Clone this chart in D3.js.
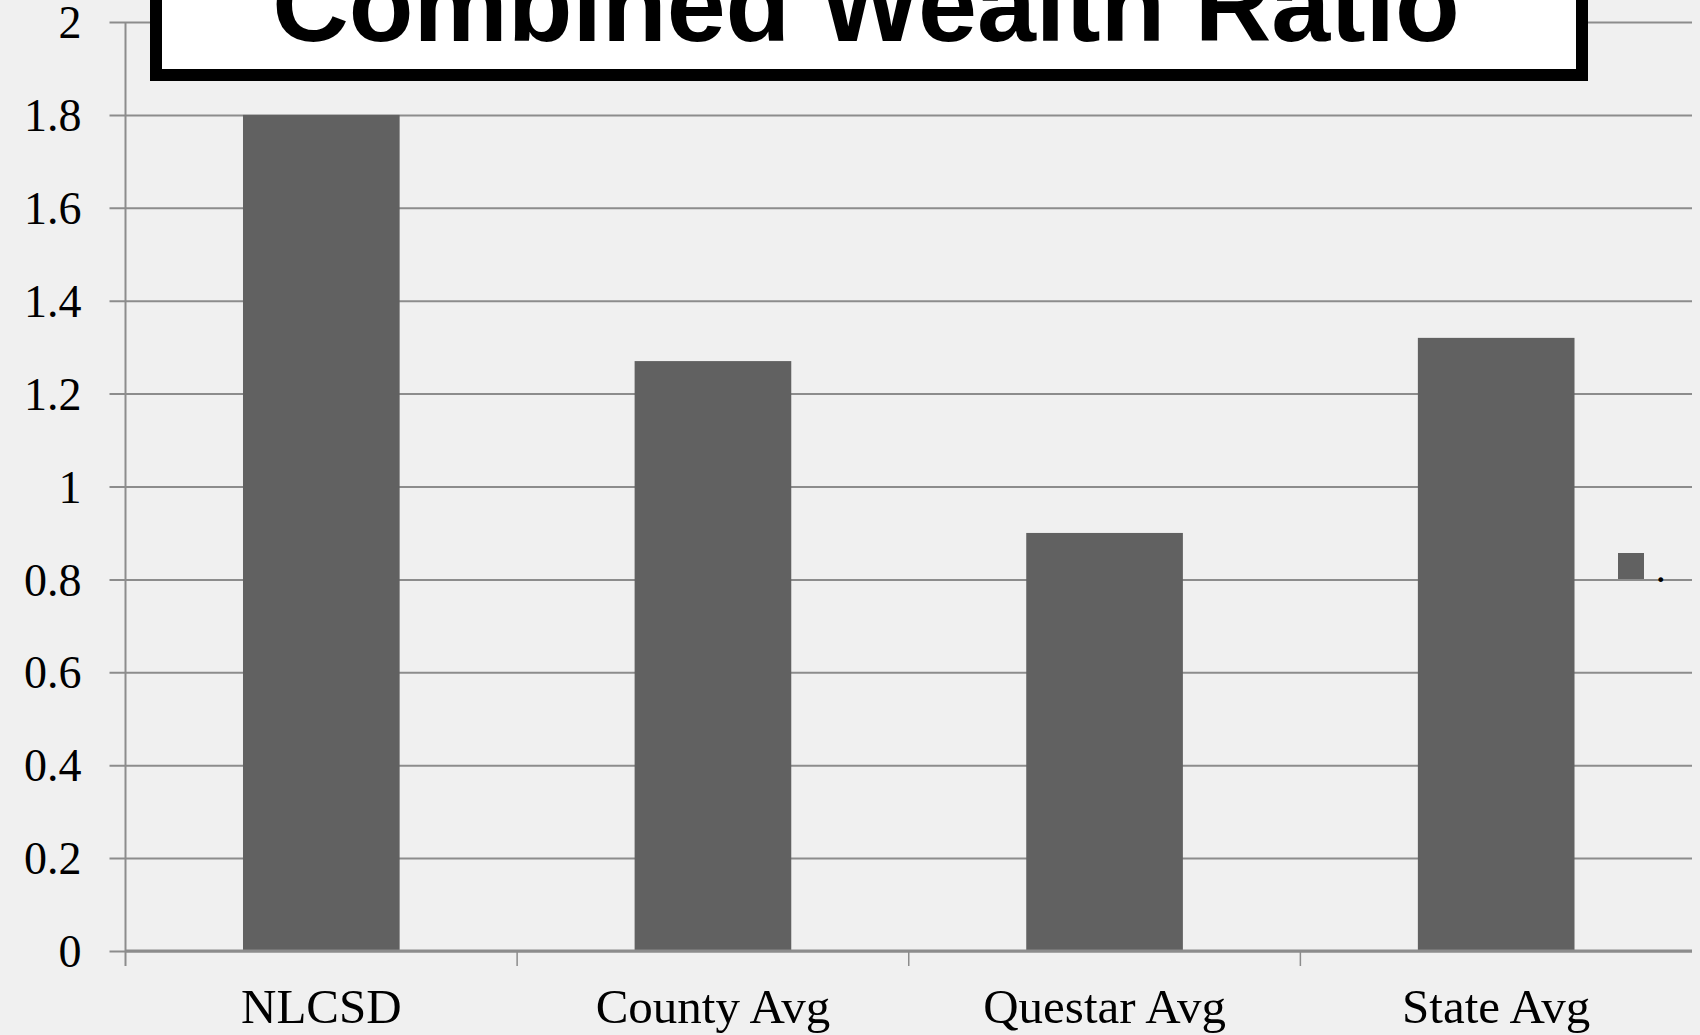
<!DOCTYPE html>
<html>
<head>
<meta charset="utf-8">
<script src="https://cdn.jsdelivr.net/npm/d3@7"></script>
<style>
  body { margin: 0; background: #f0f0f0; }
  .tick text { font-family: "Liberation Serif", "DejaVu Serif", serif; fill: #000; }
</style>
</head>
<body>
<div class="chart"></div>
<script>
var categories = ["NLCSD", "County Avg", "Questar Avg", "State Avg"];
var values = [1.8, 1.27, 0.9, 1.32];
var yTicks = [0, 0.2, 0.4, 0.6, 0.8, 1, 1.2, 1.4, 1.6, 1.8, 2];
var titleText = "Combined Wealth Ratio";
var legendLabel = ".";

var W = 1700, H = 1035;
var plotLeft = 125.5, plotRight = 1692, plotTop = 22, plotBottom = 951;

var svg = d3.select(".chart")
  .append("svg")
    .attr("width", W)
    .attr("height", H)
    .style("display", "block");

svg.append("rect")
  .attr("width", W)
  .attr("height", H)
  .attr("fill", "#f0f0f0");

var x = d3.scaleBand()
  .domain(categories)
  .range([plotLeft, plotRight])
  .paddingInner(0.6)
  .paddingOuter(0.3);

var y = d3.scaleLinear()
  .domain([0, 2])
  .range([plotBottom, plotTop]);

// gridlines + y axis labels
var yAxis = d3.axisLeft(y)
  .tickValues(yTicks)
  .tickSize(plotRight - plotLeft + 16)
  .tickPadding(28)
  .tickFormat(d3.format("~g"));

var gy = svg.append("g")
  .attr("transform", "translate(" + plotRight + ",0)")
  .call(yAxis);
gy.select(".domain").remove();
gy.selectAll(".tick line")
  .attr("stroke", "#8c8c8c")
  .attr("stroke-width", 2);
gy.selectAll(".tick text")
  .attr("font-size", 46)
  .attr("dy", "0.34em");

// y axis vertical line
svg.append("line")
  .attr("x1", plotLeft).attr("x2", plotLeft)
  .attr("y1", y(2)).attr("y2", plotBottom + 15)
  .attr("stroke", "#8c8c8c")
  .attr("stroke-width", 2);

// bars
svg.append("g")
  .selectAll("rect")
  .data(values)
  .join("rect")
    .attr("x", function(d, i) { return x(categories[i]); })
    .attr("y", function(d) { return y(d); })
    .attr("width", x.bandwidth())
    .attr("height", function(d) { return y(0) - y(d); })
    .attr("fill", "#616161");

// x axis
var xAxis = d3.axisBottom(x)
  .tickSize(0)
  .tickPadding(72);

var gx = svg.append("g")
  .attr("transform", "translate(0," + plotBottom + ")")
  .call(xAxis);
gx.select(".domain")
  .attr("stroke", "#8c8c8c")
  .attr("stroke-width", 3)
  .attr("d", "M" + plotLeft + ",0H" + plotRight);
gx.selectAll(".tick text")
  .attr("font-size", 49)
  .attr("dy", "0");

// category separators
var step = x.step();
svg.append("g")
  .selectAll("line")
  .data(categories.slice(1))
  .join("line")
    .attr("x1", function(d) { return x(d) - step * 0.3; })
    .attr("x2", function(d) { return x(d) - step * 0.3; })
    .attr("y1", plotBottom)
    .attr("y2", plotBottom + 15)
    .attr("stroke", "#8c8c8c")
    .attr("stroke-width", 1.5);

// legend
svg.append("rect")
  .attr("x", 1618).attr("y", 553)
  .attr("width", 26).attr("height", 26)
  .attr("fill", "#616161");
svg.append("text")
  .attr("x", 1657).attr("y", 582)
  .attr("font-family", "Liberation Serif, serif")
  .attr("font-size", 30)
  .attr("font-weight", "bold")
  .text(legendLabel);

// title box
svg.append("rect")
  .attr("x", 156).attr("y", -60)
  .attr("width", 1426).attr("height", 135)
  .attr("fill", "#ffffff")
  .attr("stroke", "#000")
  .attr("stroke-width", 12);

svg.append("text")
  .attr("x", 866)
  .attr("y", 41)
  .attr("text-anchor", "middle")
  .attr("font-family", "Liberation Sans, Arial, sans-serif")
  .attr("font-weight", "bold")
  .attr("font-size", 106)
  .text(titleText);
</script>
</body>
</html>
